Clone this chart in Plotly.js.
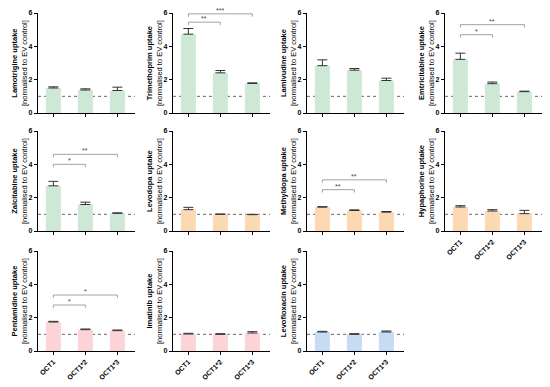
<!DOCTYPE html>
<html><head>
<meta charset="utf-8">
<script src="https://cdn.plot.ly/plotly-3.0.1.min.js"></script>
<style>html,body{margin:0;padding:0;background:#fff}</style>
</head>
<body>
<div id="chart" style="width:550px;height:387px"></div>
<script>
// ---- data ----
const categories = ['OCT1', 'OCT1*2', 'OCT1*3'];
const yTicks = [0, 2, 4, 6];
const drugNames = ['Lamotrigine', 'Trimethoprim', 'Lamivudine', 'Emtricitabine',
  'Zalcitabine', 'Levodopa', 'Methyldopa', 'Hypaphorine',
  'Pentamidine', 'Imatinib', 'Levofloxacin'];

const lamotrigineMean = [1.50, 1.38, 1.35];
const lamotrigineErr = [0.07, 0.07, 0.20];
const trimethoprimMean = [4.73, 2.41, 1.77];
const trimethoprimErr = [0.34, 0.14, 0.04];
const lamivudineMean = [2.84, 2.57, 1.95];
const lamivudineErr = [0.35, 0.10, 0.14];
const emtricitabineMean = [3.22, 1.76, 1.28];
const emtricitabineErr = [0.37, 0.10, 0.03];
const zalcitabineMean = [2.71, 1.59, 1.06];
const zalcitabineErr = [0.27, 0.14, 0.03];
const levodopaMean = [1.28, 1.00, 0.98];
const levodopaErr = [0.14, 0.02, 0.02];
const methyldopaMean = [1.43, 1.23, 1.13];
const methyldopaErr = [0.03, 0.04, 0.04];
const hypaphorineMean = [1.44, 1.20, 1.04];
const hypaphorineErr = [0.08, 0.08, 0.20];
const pentamidineMean = [1.74, 1.28, 1.22];
const pentamidineErr = [0.04, 0.04, 0.04];
const imatinibMean = [1.02, 1.00, 1.08];
const imatinibErr = [0.04, 0.04, 0.08];
const levofloxacinMean = [1.14, 1.00, 1.14];
const levofloxacinErr = [0.04, 0.04, 0.06];

// significance: [label, compared bar index, bracket level]
const trimethoprimSig = [['**', 1, 5.45], ['***', 2, 5.95]];
const emtricitabineSig = [['*', 1, 4.70], ['**', 2, 5.30]];
const zalcitabineSig = [['*', 1, 4.00], ['**', 2, 4.60]];
const methyldopaSig = [['**', 1, 2.48], ['**', 2, 3.07]];
const pentamidineSig = [['*', 1, 2.76], ['*', 2, 3.36]];

const green = '#cde9d6', peach = '#fdd9b3', pink = '#fcd3d6', blue = '#c6dcf5';

const panels = [
  [lamotrigineMean, lamotrigineErr, green, []],
  [trimethoprimMean, trimethoprimErr, green, trimethoprimSig],
  [lamivudineMean, lamivudineErr, green, []],
  [emtricitabineMean, emtricitabineErr, green, emtricitabineSig],
  [zalcitabineMean, zalcitabineErr, green, zalcitabineSig],
  [levodopaMean, levodopaErr, peach, []],
  [methyldopaMean, methyldopaErr, peach, methyldopaSig],
  [hypaphorineMean, hypaphorineErr, peach, []],
  [pentamidineMean, pentamidineErr, pink, pentamidineSig],
  [imatinibMean, imatinibErr, pink, []],
  [levofloxacinMean, levofloxacinErr, blue, []]
];

// ---- layout geometry (px) ----
const W = 550, H = 387;
const colLeft = [38, 173, 307, 445];
const plotW = 97;
const rowTB = [[13, 113], [131, 231], [251, 351]];
const FONT = 'Liberation Sans, Arial, sans-serif';

const traces = [];
const layout = {
  width: W, height: H,
  margin: {l: 0, r: 0, t: 0, b: 0},
  paper_bgcolor: '#fff', plot_bgcolor: '#fff',
  showlegend: false,
  font: {family: FONT, color: '#000'},
  shapes: [], annotations: []
};

panels.forEach((p, i) => {
  const [mean, err, color, sig] = p;
  const row = Math.floor(i / 4), col = i % 4;
  const n = i === 0 ? '' : String(i + 1);
  const xa = 'x' + n, ya = 'y' + n;
  const L = colLeft[col];
  const [T, B] = rowTB[row];
  const showX = row === 2 || i === 7;

  traces.push({
    type: 'bar', x: categories, y: mean, xaxis: xa, yaxis: ya,
    width: 0.47,
    marker: {color: color, line: {width: 0}},
    error_y: {type: 'data', array: err, arrayminus: err.map(() => 0), symmetric: false,
      color: '#333', thickness: 1, width: 5},
    hoverinfo: 'skip'
  });

  layout['xaxis' + n] = {
    domain: [L / W, (L + plotW) / W], anchor: ya,
    type: 'category', range: [-0.48, 2.55],
    showline: true, linecolor: '#000', linewidth: 1.2,
    ticks: 'outside', ticklen: 3, tickwidth: 1, tickcolor: '#000',
    showticklabels: showX, tickangle: -45,
    tickfont: {family: FONT, size: 7, color: '#000', weight: 'bold'},
    showgrid: false, zeroline: false, fixedrange: true
  };
  layout['yaxis' + n] = {
    domain: [1 - B / H, 1 - T / H], anchor: xa,
    range: [0, 6], tickvals: yTicks,
    showline: true, linecolor: '#000', linewidth: 1.2,
    ticks: 'outside', ticklen: 3, tickwidth: 1, tickcolor: '#000',
    tickfont: {family: FONT, size: 7, color: '#000', weight: 'bold'},
    showgrid: false, zeroline: false, fixedrange: true
  };

  // dotted reference line at y = 1
  layout.shapes.push({
    type: 'line', xref: xa + ' domain', yref: ya, x0: 0, x1: 1, y0: 1, y1: 1,
    line: {color: '#666', width: 1, dash: 'dot'}, layer: 'below'
  });

  // axis title
  layout.annotations.push({
    xref: 'paper', yref: 'paper', x: L / W, y: 1 - (T + B) / 2 / H,
    xshift: -19, xanchor: 'center', yanchor: 'middle', textangle: -90,
    showarrow: false,
    text: '<b>' + drugNames[i] + ' uptake</b><br>[normalised to EV control]',
    font: {family: FONT, size: 7.5, color: '#000'}
  });

  // significance brackets
  sig.forEach(s => {
    const [label, to, level] = s;
    const drop = 0.17;
    layout.shapes.push({
      type: 'path', xref: xa, yref: ya,
      path: `M 0,${level - drop} L 0,${level} L ${to},${level} L ${to},${level - drop}`,
      line: {color: '#8a8a8a', width: 0.8}
    });
    layout.annotations.push({
      xref: xa, yref: ya, x: to / 2, y: level, yanchor: 'bottom', yshift: -2,
      showarrow: false, text: label,
      font: {family: FONT, size: 7, color: '#444'}
    });
  });
});

Plotly.newPlot('chart', traces, layout, {displayModeBar: false, staticPlot: true});
</script>
</body></html>
